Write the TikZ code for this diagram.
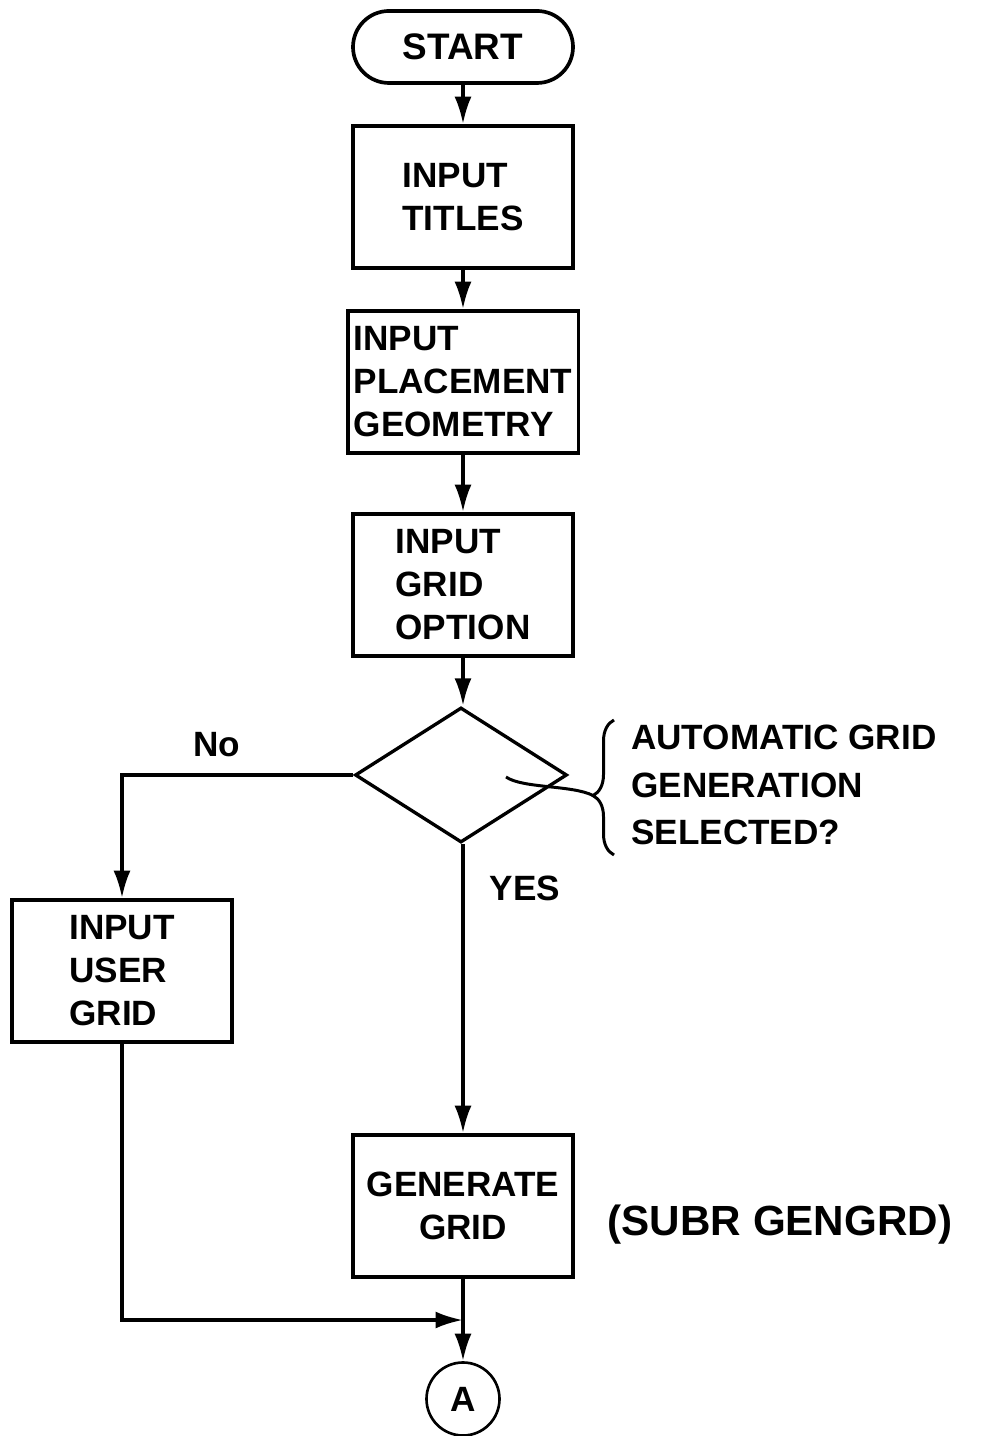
\documentclass[tikz,border=0pt]{standalone}
\usepackage{fontspec}
\setmainfont{Liberation Sans}
\usetikzlibrary{arrows.meta,shapes.geometric,decorations.pathreplacing,calc}

\tikzset{
    box/.style={draw, line width=2.1pt, minimum width=4.4cm, minimum height=2.84cm,
        inner sep=0.05cm, align=left, font=\fontsize{20}{24.5}\selectfont\bfseries},
    flow/.style={line width=2pt, -{Latex[length=0.55cm, width=0.34cm]}},
    tag/.style={font=\fontsize{20}{27}\selectfont\bfseries},
}

\begin{document}
\begin{tikzpicture}
    \useasboundingbox (0, 0) rectangle (19.68, 28.72);

    \node [draw, line width=2.1pt, rounded corners=0.72cm, minimum width=4.4cm, minimum height=1.44cm,
        font=\fontsize{21}{24}\selectfont\bfseries] (start) at (9.26, 27.78) {START};
    \node [box] (titles) at (9.26, 24.78) {INPUT\\TITLES};
    \node [box, inner sep=0.12cm] (place) at (9.26, 21.08) {INPUT\\PLACEMENT\\GEOMETRY};
    \node [box] (option) at (9.26, 17.02) {INPUT\\GRID\\OPTION};
    \node [diamond, draw, line width=1.9pt, minimum width=4.24cm, minimum height=2.7cm,
        inner sep=0] (choice) at (9.22, 13.22) {};
    \node [box] (user) at (2.44, 9.30) {INPUT\\USER\\GRID};
    \node [box, align=center] (gen) at (9.26, 4.60) {GENERATE\\GRID};
    \node [circle, draw, line width=1.5pt, minimum size=1.46cm, tag] (a) at (9.26, 0.74) {A};

    \draw [flow] (start.south) -- (titles.north);
    \draw [flow] (titles.south) -- (place.north);
    \draw [flow] (place.south) -- (option.north);
    \draw [flow] (option.south) -- (option.south |- choice.north);
    \draw [flow] (choice.west) -| (user.north);
    \draw [flow] (gen.north |- choice.south) -- (gen.north);
    \draw [flow] (gen.south) -- (a.north);

    \coordinate (join) at ($(gen.south)!0.5!(a.north)$);
    \draw [flow] (user.south) |- (join);

    \node [tag] at (4.34, 13.82) {No};
    \node [tag] at (10.5, 10.96) {YES};
    \node [tag, font=\fontsize{24}{28}\selectfont\bfseries] at (15.6, 4.22) {(SUBR GENGRD)};

    \draw [line width=1.7pt, decorate, decoration={brace, amplitude=0.42cm, aspect=0.44}]
        (12.28, 11.62) -- (12.28, 14.32);
    \coordinate (tip) at (11.86, 12.81);
    \coordinate (hook) at (10.12, 13.18);
    \draw [line width=1.7pt] (hook) .. controls (10.45, 12.95) and (11.45, 13.02) .. (tip);
    \node [tag, align=left, anchor=west] (question) at (12.5, 13.02)
        {AUTOMATIC GRID\\GENERATION\\SELECTED?};
\end{tikzpicture}
\end{document}
